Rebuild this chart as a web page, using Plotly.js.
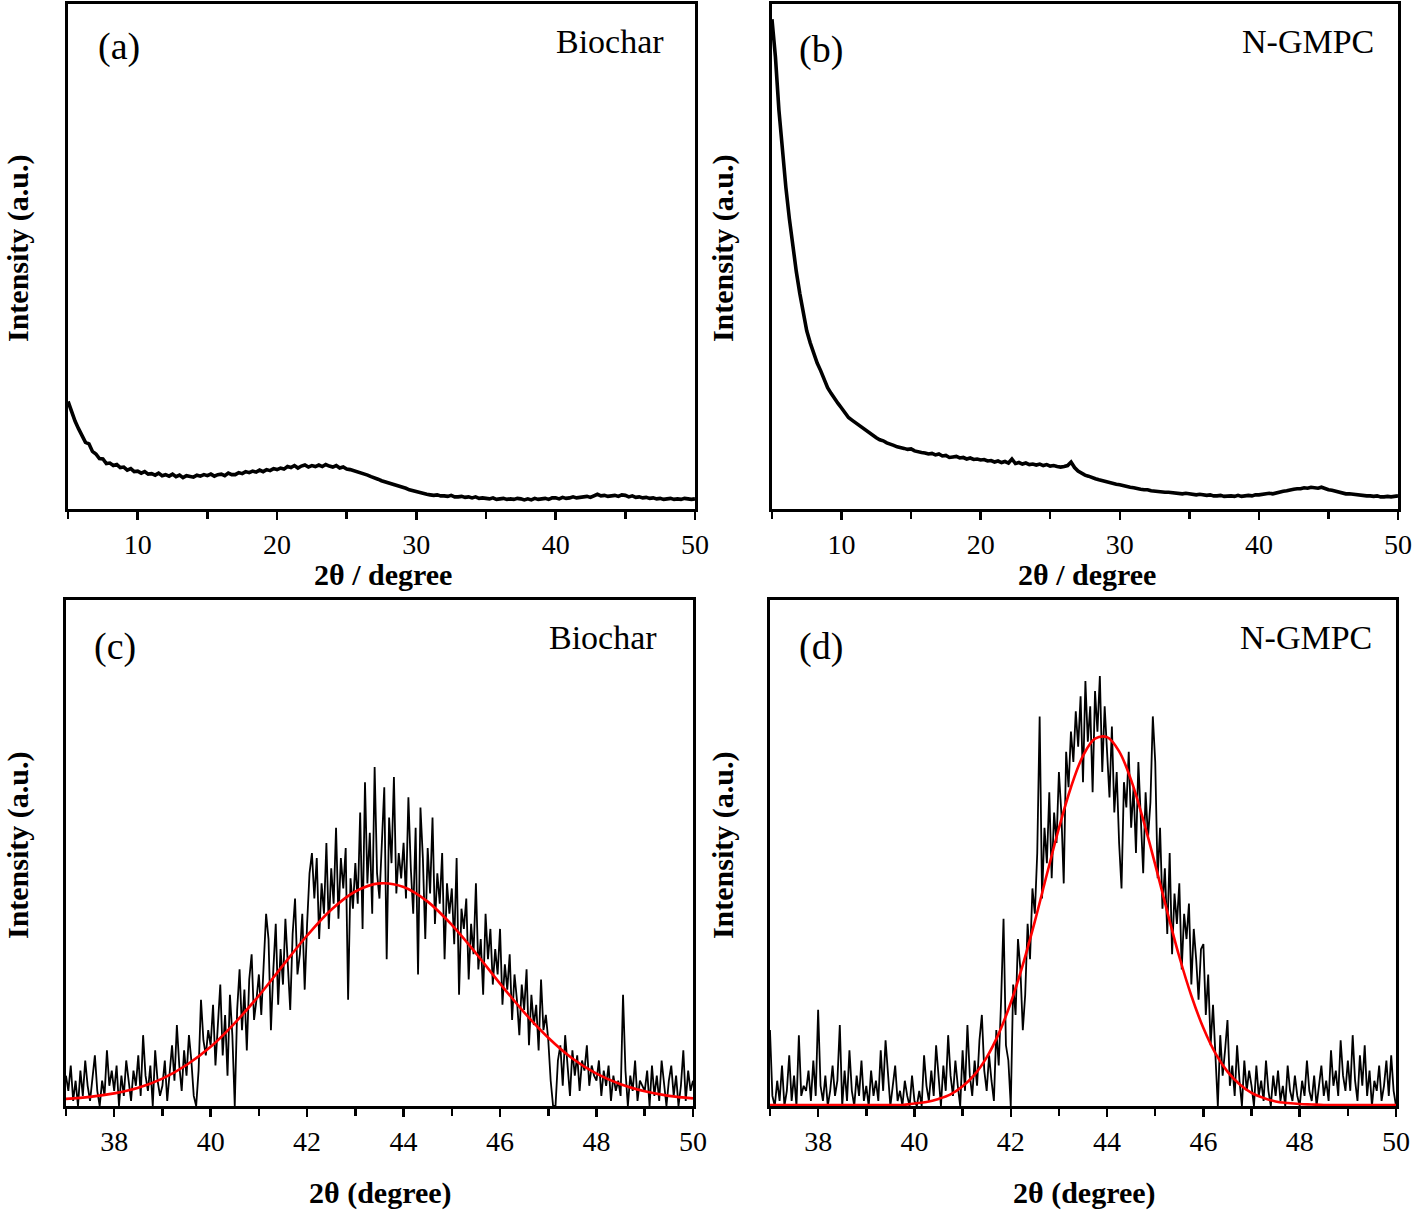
<!DOCTYPE html>
<html>
<head>
<meta charset="utf-8">
<script src="https://cdn.plot.ly/plotly-3.0.1.min.js"></script>
<style>html,body{margin:0;padding:0;background:#fff;}#chart{width:1418px;height:1211px;}</style>
</head>
<body>
<div id="chart"></div>
<script>
// ---------- DATA ----------
// Panels (a) and (b): 2θ from 5 to 50, step 0.25
const wideStart = 5;
const wideStep = 0.25;
const biocharWide = [
  21.3,19.2,17.4,15.9, 14.6,13.2,12.9,11.4, 10.9,10.0,9.9,9.0, 9.1,8.6,8.8,8.2,
  8.3,7.7,8.0,7.4, 7.5,7.1,7.4,6.9, 7.0,6.7,7.1,6.6, 6.8,6.5,6.9,6.4,
  6.7,6.2,6.6,6.4, 6.3,6.7,6.5,6.8, 6.6,6.9,6.5,6.8, 6.9,6.6,7.1,6.8,
  6.8,7.2,7.0,7.4, 7.2,7.5,7.3,7.7, 7.4,7.8,7.6,8.0, 7.8,8.1,7.9,8.4,
  8.2,8.6,8.1,8.5, 8.7,8.3,8.6,8.4, 8.7,8.4,8.8,8.5, 8.3,8.6,8.1,8.3,
  7.9,7.8,7.6,7.4, 7.2,6.9,6.7,6.4, 6.2,5.9,5.6,5.4, 5.1,4.9,4.7,4.6,
  4.4,4.1,3.8,3.6, 3.4,3.2,3.0,2.9, 2.8,2.7,2.8,2.6, 2.6,2.5,2.7,2.4,
  2.4,2.5,2.3,2.4, 2.2,2.4,2.1,2.2, 2.1,2.0,2.2,1.9, 2.0,2.1,1.9,2.0,
  1.9,2.1,2.0,1.8, 2.0,1.8,2.1,1.9, 2.0,2.1,1.9,2.2, 2.2,2.0,2.3,2.1,
  2.2,2.4,2.2,2.3, 2.4,2.5,2.3,2.6, 2.9,2.6,2.7,2.5, 2.6,2.7,2.5,2.8,
  2.7,2.4,2.6,2.3, 2.4,2.2,2.3,2.1, 2.2,2.0,2.1,1.9, 2.0,2.1,1.9,2.0,
  1.9,2.1,2.0,1.9, 2.0
];
const ngmpcWide = [
  97.0,89.5,79.0,71.0, 63.7,57.5,51.8,47.0, 42.7,38.8,35.3,32.9, 30.8,28.9,27.4,25.5,
  24.0,22.9,21.8,20.9, 20.0,19.0,18.1,17.6, 17.1,16.4,15.9,15.4, 14.9,14.5,14.1,13.7,
  13.5,13.1,12.9,12.6, 12.3,12.2,12.0,11.8, 11.9,11.5,11.3,11.2, 11.1,10.9,11.0,10.7,
  10.9,10.5,10.6,10.2, 10.3,10.4,10.1,10.2, 9.9,10.1,9.8,9.9, 9.7,9.8,9.5,9.6,
  9.3,9.5,9.2,9.4, 9.1,9.9,9.0,9.2, 8.9,9.1,8.8,8.9, 8.7,8.9,8.6,8.8,
  8.5,8.6,8.4,8.3, 8.4,8.6,9.3,8.2, 7.5,7.0,6.7,6.5, 6.2,6.0,5.8,5.6,
  5.4,5.2,5.0,4.9, 4.8,4.6,4.4,4.3, 4.2,4.0,3.9,3.8, 3.8,3.6,3.5,3.5,
  3.4,3.3,3.3,3.2, 3.2,3.1,3.0,3.1, 3.0,2.9,2.8,2.9, 2.8,2.7,2.8,2.6,
  2.6,2.7,2.5,2.6, 2.6,2.5,2.7,2.5, 2.6,2.7,2.6,2.8, 2.8,2.9,3.0,3.1,
  3.0,3.2,3.4,3.5, 3.6,3.8,3.9,4.0, 4.0,4.2,4.1,4.3, 4.2,4.1,4.3,4.0,
  3.8,3.7,3.5,3.3, 3.2,3.0,3.0,2.9, 2.8,2.7,2.7,2.6, 2.6,2.5,2.6,2.4,
  2.4,2.5,2.4,2.5, 2.6
];

// Panels (c) and (d): 2θ from 37 to 50, step 0.05 (measured) / 0.5 and 0.25 (fits)
const zoomStart = 37;
const zoomStep = 0.05;
const biocharZoom = [
  6,3,8,1,5,0,7,2,9,4,1,6,10,3,0,5,2,11,4,7,
  3,8,0,6,2,9,5,1,7,4,10,2,14,6,3,8,0,11,5,2,
  4,9,1,7,12,5,16,8,3,11,6,14,9,2,0,7,21,13,10,15,
  12,20,8,16,24,10,18,6,22,14,0,19,27,15,23,11,25,30,17,21,
  26,18,29,38,33,15,27,36,20,31,24,37,28,19,34,41,26,30,38,23,
  36,46,50,41,49,33,44,38,52,35,47,40,55,37,49,43,51,21,45,39,
  48,40,58,35,64,44,54,38,67,46,41,52,63,29,57,48,65,42,50,45,
  52,41,61,47,38,55,26,59,49,33,51,42,57,36,46,40,50,29,44,38,
  43,32,49,22,39,35,41,25,36,30,44,27,33,22,38,29,35,24,31,26,
  35,20,28,23,30,17,26,21,14,24,19,27,12,22,16,20,11,25,15,18,
  13,5,0,0,9,12,4,14,8,2,11,6,10,3,9,7,12,4,8,6,
  5,9,2,7,4,8,1,6,3,5,2,22,7,0,6,3,9,1,5,4,
  3,7,0,8,2,6,1,9,4,0,5,8,2,6,0,4,11,1,7,3,
  5
];
const fitStepC = 0.5;
const biocharFit = [
  1.4,1.8,2.5,3.6,5.4,8.1,11.7,16.4,21.8,27.8,33.7,38.8,42.4,44.0,
  43.3,40.4,35.8,30.2,24.2,18.5,13.5,9.4,6.4,4.3,2.9,2.0,1.5
];
const ngmpcZoom = [
  15,2,0,5,1,8,0,3,10,1,6,0,14,2,4,3,7,1,9,2,
  19,4,1,6,0,3,8,2,5,16,0,7,1,11,3,0,6,2,9,1,
  4,0,7,2,5,1,11,3,13,6,0,4,8,1,3,0,5,2,0,6,
  1,0,3,0,10,4,1,7,2,12,5,0,8,3,14,6,2,9,4,0,
  11,3,16,6,2,9,4,13,18,7,3,10,5,1,15,8,21,37,12,9,
  0,24,18,33,27,15,22,36,29,43,38,50,77,41,55,48,62,45,58,52,
  66,58,44,70,63,74,68,78,71,81,64,84,72,79,62,82,74,85,66,79,
  70,61,75,58,66,52,43,64,59,70,55,63,50,68,57,46,62,53,60,77,
  68,45,55,39,47,34,50,30,42,36,44,27,38,33,40,24,35,29,21,31,
  32,18,26,12,20,9,0,14,6,11,17,4,8,2,12,5,0,9,3,7,
  4,0,8,2,5,1,9,3,0,6,2,7,1,4,0,8,3,1,6,2,
  0,5,2,9,3,1,6,0,4,8,2,5,1,11,4,7,2,13,6,3,
  9,3,14,5,1,10,4,12,2,7,0,5,3,8,1,4,9,2,10,3,
  0
];
const fitStepD = 0.25;
const ngmpcFit = [
  0.2,0.2,0.2,0.2, 0.2,0.2,0.2,0.2, 0.2,0.2,0.2,0.2,
  0.5,0.8,1.4,2.3, 3.9,6.2,9.6,14.3, 20.4,27.9,36.5,45.8,
  54.9,63.0,69.2,72.6, 72.9,70.1,64.4,56.6, 47.7,38.4,29.5,21.8,
  15.4,10.4,6.8,4.3, 2.6,1.6,0.9,0.6, 0.4,0.3,0.2,0.2,
  0.2,0.2,0.2,0.2, 0.2
];
// (index 11 of ngmpcFit corresponds to 39.75)

const panelTags = ['(a)', '(b)', '(c)', '(d)'];
const sampleNames = ['Biochar', 'N-GMPC', 'Biochar', 'N-GMPC'];
const xTitleTop = '2θ / degree';
const xTitleBottom = '2θ (degree)';
const yTitle = 'Intensity (a.u.)';

// ---------- CHART ----------
const FONT = 'Liberation Serif, Times New Roman, serif';

const traces = [
  {x0: wideStart, dx: wideStep, y: biocharWide, xaxis: 'x', yaxis: 'y', type: 'scatter', mode: 'lines',
   line: {color: '#000', width: 3.6}, hoverinfo: 'skip'},
  {x0: wideStart, dx: wideStep, y: ngmpcWide, xaxis: 'x2', yaxis: 'y2', type: 'scatter', mode: 'lines',
   line: {color: '#000', width: 3.6}, hoverinfo: 'skip'},
  {x0: zoomStart, dx: zoomStep, y: biocharZoom, xaxis: 'x3', yaxis: 'y3', type: 'scatter', mode: 'lines',
   line: {color: '#000', width: 1.8}, hoverinfo: 'skip'},
  {x0: zoomStart, dx: fitStepC, y: biocharFit, xaxis: 'x3', yaxis: 'y3', type: 'scatter', mode: 'lines',
   line: {color: '#ff0000', width: 2.6, shape: 'spline'}, hoverinfo: 'skip'},
  {x0: zoomStart, dx: zoomStep, y: ngmpcZoom, xaxis: 'x4', yaxis: 'y4', type: 'scatter', mode: 'lines',
   line: {color: '#000', width: 1.8}, hoverinfo: 'skip'},
  {x0: zoomStart, dx: fitStepD, y: ngmpcFit, xaxis: 'x4', yaxis: 'y4', type: 'scatter', mode: 'lines',
   line: {color: '#ff0000', width: 2.6, shape: 'spline'}, hoverinfo: 'skip'}
];

function xAxis(domain, anchor, range, dtick, minorDtick) {
  return {
    domain: domain, anchor: anchor, range: range, tick0: 0, dtick: dtick,
    showgrid: false, zeroline: false, showline: true, mirror: true,
    linecolor: '#000', linewidth: 3,
    ticks: 'outside', ticklen: 8, tickwidth: 2.5, tickcolor: '#000',
    minor: {dtick: minorDtick, tick0: 0, ticks: 'outside', ticklen: 7, tickwidth: 2.5, tickcolor: '#000', showgrid: false},
    tickfont: {family: FONT, size: 28, color: '#000'},
    fixedrange: true
  };
}
function yAxis(domain, anchor) {
  return {
    domain: domain, anchor: anchor, range: [0, 100],
    showgrid: false, zeroline: false, showline: true, mirror: true,
    linecolor: '#000', linewidth: 3, ticks: '', showticklabels: false,
    fixedrange: true
  };
}

const topY = [0.5797, 0.9967];
const botY = [0.0867, 0.5045];

const layout = {
  width: 1418, height: 1211,
  margin: {l: 0, r: 0, t: 0, b: 0},
  paper_bgcolor: '#fff', plot_bgcolor: '#fff',
  showlegend: false,
  font: {family: FONT, color: '#000'},
  xaxis:  xAxis([0.0480, 0.4901], 'y',  [5, 50], 10, 5),
  yaxis:  yAxis(topY, 'x'),
  xaxis2: xAxis([0.5444, 0.9859], 'y2', [5, 50], 10, 5),
  yaxis2: yAxis(topY, 'x2'),
  xaxis3: xAxis([0.0465, 0.4887], 'y3', [37, 50], 2, 1),
  yaxis3: yAxis(botY, 'x3'),
  xaxis4: xAxis([0.5430, 0.9845], 'y4', [37, 50], 2, 1),
  yaxis4: yAxis(botY, 'x4'),
  annotations: []
};

const axisPairs = [['x', 'y'], ['x2', 'y2'], ['x3', 'y3'], ['x4', 'y4']];
const tagPos = [[0.081, 0.915], [0.078, 0.909], [0.079, 0.909], [0.081, 0.909]];
const namePos = [[0.954, 0.925], [0.965, 0.925], [0.946, 0.925], [0.965, 0.925]];
axisPairs.forEach(function (p, i) {
  layout.annotations.push({
    xref: p[0] + ' domain', yref: p[1] + ' domain', x: tagPos[i][0], y: tagPos[i][1],
    xanchor: 'center', yanchor: 'middle', showarrow: false, text: panelTags[i],
    font: {family: FONT, size: 38, color: '#000'}
  });
  layout.annotations.push({
    xref: p[0] + ' domain', yref: p[1] + ' domain', x: namePos[i][0], y: namePos[i][1],
    xanchor: 'right', yanchor: 'middle', showarrow: false, text: sampleNames[i],
    font: {family: FONT, size: 34, color: '#000'}
  });
});

const xTitlePos = [[0.2700, 0.5252, xTitleTop], [0.7666, 0.5252, xTitleTop],
                   [0.2680, 0.0149, xTitleBottom], [0.7645, 0.0149, xTitleBottom]];
xTitlePos.forEach(function (t) {
  layout.annotations.push({
    xref: 'paper', yref: 'paper', x: t[0], y: t[1], xanchor: 'center', yanchor: 'middle',
    showarrow: false, text: '<b>' + t[2] + '</b>', font: {family: FONT, size: 30, color: '#000'}
  });
});
const yTitlePos = [[0.0127, 0.7952], [0.5099, 0.7952], [0.0127, 0.3022], [0.5099, 0.3022]];
yTitlePos.forEach(function (t) {
  layout.annotations.push({
    xref: 'paper', yref: 'paper', x: t[0], y: t[1], xanchor: 'center', yanchor: 'middle',
    textangle: -90, showarrow: false, text: '<b>' + yTitle + '</b>',
    font: {family: FONT, size: 30, color: '#000'}
  });
});

Plotly.newPlot('chart', traces, layout, {staticPlot: true, displayModeBar: false});
</script>
</body>
</html>
